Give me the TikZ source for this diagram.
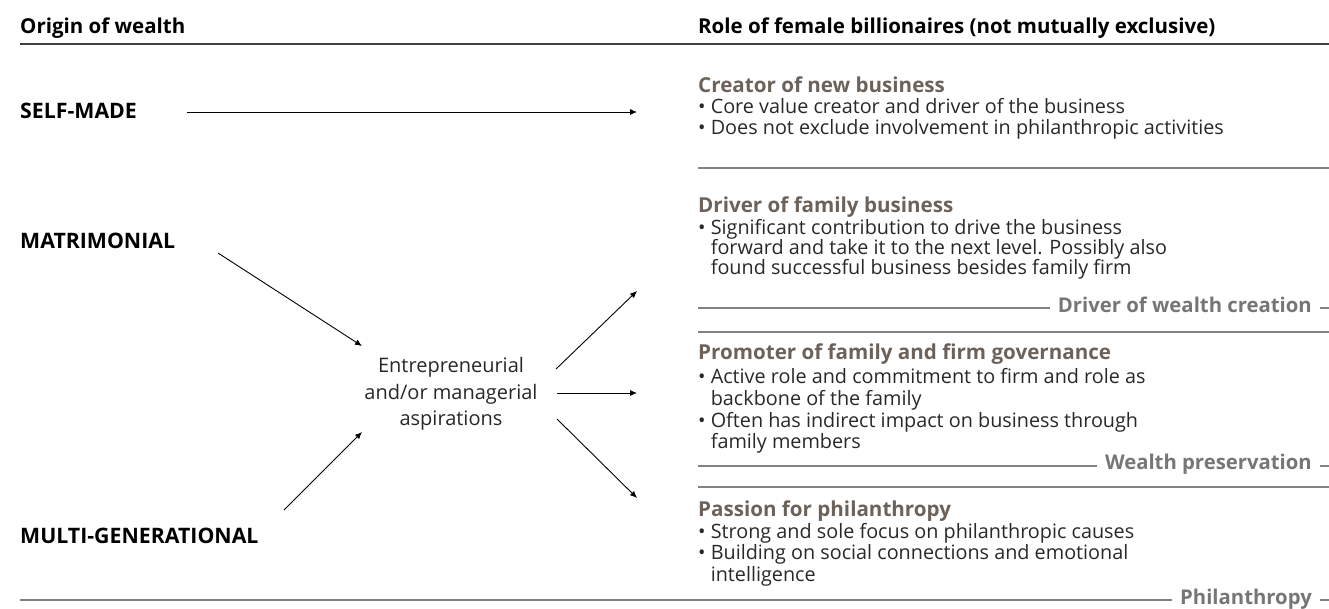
\documentclass[tikz,border=0pt]{standalone}
\usepackage{fontspec}
\setmainfont{Open Sans}
\usepackage{tikz}
\usetikzlibrary{arrows.meta,positioning}

\definecolor{headbrown}{RGB}{108,98,90}
\definecolor{rulegray}{RGB}{130,130,130}
\definecolor{labelgray}{RGB}{118,118,118}
\definecolor{bodytext}{RGB}{40,40,40}

\newcommand{\bpt}{\textbullet\ }
\newcommand{\bgap}{\hphantom{\textbullet\ }}

\tikzset{
  colhead/.style={anchor=base west, inner sep=0pt, font=\fontsize{20.5}{24}\selectfont\bfseries},
  origin/.style={anchor=base west, inner sep=0pt, font=\fontsize{21.3}{24}\selectfont\bfseries},
  rolehead/.style={anchor=base west, inner sep=0pt, text=headbrown, font=\fontsize{20.6}{24}\selectfont\bfseries},
  bodyline/.style={anchor=base west, inner sep=0pt, text=bodytext, font=\fontsize{19.8}{22}\selectfont},
  wealth/.style={anchor=base east, inner xsep=8pt, inner ysep=0pt, text=labelgray, font=\fontsize{20.3}{24}\selectfont\bfseries},
  sepline/.style={rulegray, line width=1.6pt},
  flow/.style={-{Latex[length=7pt,width=6pt]}, line width=0.9pt},
}

\begin{document}
\begin{tikzpicture}[x=1pt,y=-1pt]
      \useasboundingbox (0,0) rectangle (1329,608);

      %%column heads
      \node[colhead] (orighead) at (20,33) {Origin of wealth};
      \node[colhead] (rolehd) at (698,33) {Role of female billionaires (not mutually exclusive)};
      \draw [line width=1.2pt, black!75] (20,44) -- (1329,44);

      %%origins
      \node[origin] (self) at (20,118) {SELF-MADE};
      \node[origin] (matri) at (20,248) {MATRIMONIAL};
      \node[origin] (multi) at (20,543) {MULTI-GENERATIONAL};

      \node[align=center, text=bodytext, font=\fontsize{20}{26.5}\selectfont] (asp) at (451,394)
            {Entrepreneurial\\and/or managerial\\aspirations};

      %%arrows
      \coordinate (self-e) at (187,112);   \coordinate (creat-w) at (637,112);
      \coordinate (matri-e) at (218,253);  \coordinate (asp-nw) at (362,346);
      \coordinate (multi-e) at (284,510);  \coordinate (asp-sw) at (362,432);
      \coordinate (asp-ne) at (556,369);   \coordinate (drive-w) at (637,291);
      \coordinate (asp-e) at (557,393);    \coordinate (prom-w) at (637,393);
      \coordinate (asp-se) at (557,419);   \coordinate (pass-w) at (637,498);
      \draw [flow] (self-e) -- (creat-w);
      \draw [flow] (matri-e) -- (asp-nw);
      \draw [flow] (multi-e) -- (asp-sw);
      \draw [flow] (asp-ne) -- (drive-w);
      \draw [flow] (asp-e) -- (prom-w);
      \draw [flow] (asp-se) -- (pass-w);

      %%creator of new business
      \node[rolehead] (creat) at (698,92) {Creator of new business};
      \node[bodyline] at (698,113) {\bpt Core value creator and driver of the business};
      \node[bodyline] at (698,134) {\bpt Does not exclude involvement in philanthropic activities};
      \draw [sepline] (698,168) -- (1329,168);

      %%driver of family business
      \node[rolehead] (drive) at (698,212) {Driver of family business};
      \node[bodyline] at (698,234) {\bpt Significant contribution to drive the business};
      \node[bodyline] at (698,254) {\bgap forward and take it to the next level. Possibly also};
      \node[bodyline] at (698,274) {\bgap found successful business besides family firm};
      \node[wealth] (dwc) at (1320,312) {Driver of wealth creation};
      \draw [sepline] (698,308) -- (dwc.west |- 0,308);
      \draw [sepline] (dwc.east |- 0,308) -- (1329,308);
      \draw [sepline] (698,332) -- (1329,332);

      %%promoter of governance
      \node[rolehead] (prom) at (698,359) {Promoter of family and firm governance};
      \node[bodyline] at (698,383) {\bpt Active role and commitment to firm and role as};
      \node[bodyline] at (698,405) {\bgap backbone of the family};
      \node[bodyline] at (698,427) {\bpt Often has indirect impact on business through};
      \node[bodyline] at (698,448) {\bgap family members};
      \node[wealth] (wp) at (1320,469) {Wealth preservation};
      \draw [sepline] (698,466) -- (wp.west |- 0,466);
      \draw [sepline] (wp.east |- 0,466) -- (1329,466);
      \draw [sepline] (698,487) -- (1329,487);

      %%passion for philanthropy
      \node[rolehead] (pass) at (698,516) {Passion for philanthropy};
      \node[bodyline] at (698,538) {\bpt Strong and sole focus on philanthropic causes};
      \node[bodyline] at (698,559) {\bpt Building on social connections and emotional};
      \node[bodyline] at (698,581) {\bgap intelligence};
      \node[wealth] (phil) at (1320,604) {Philanthropy};
      \draw [sepline] (20,600) -- (phil.west |- 0,600);
      \draw [sepline] (phil.east |- 0,600) -- (1329,600);

\end{tikzpicture}
\end{document}
